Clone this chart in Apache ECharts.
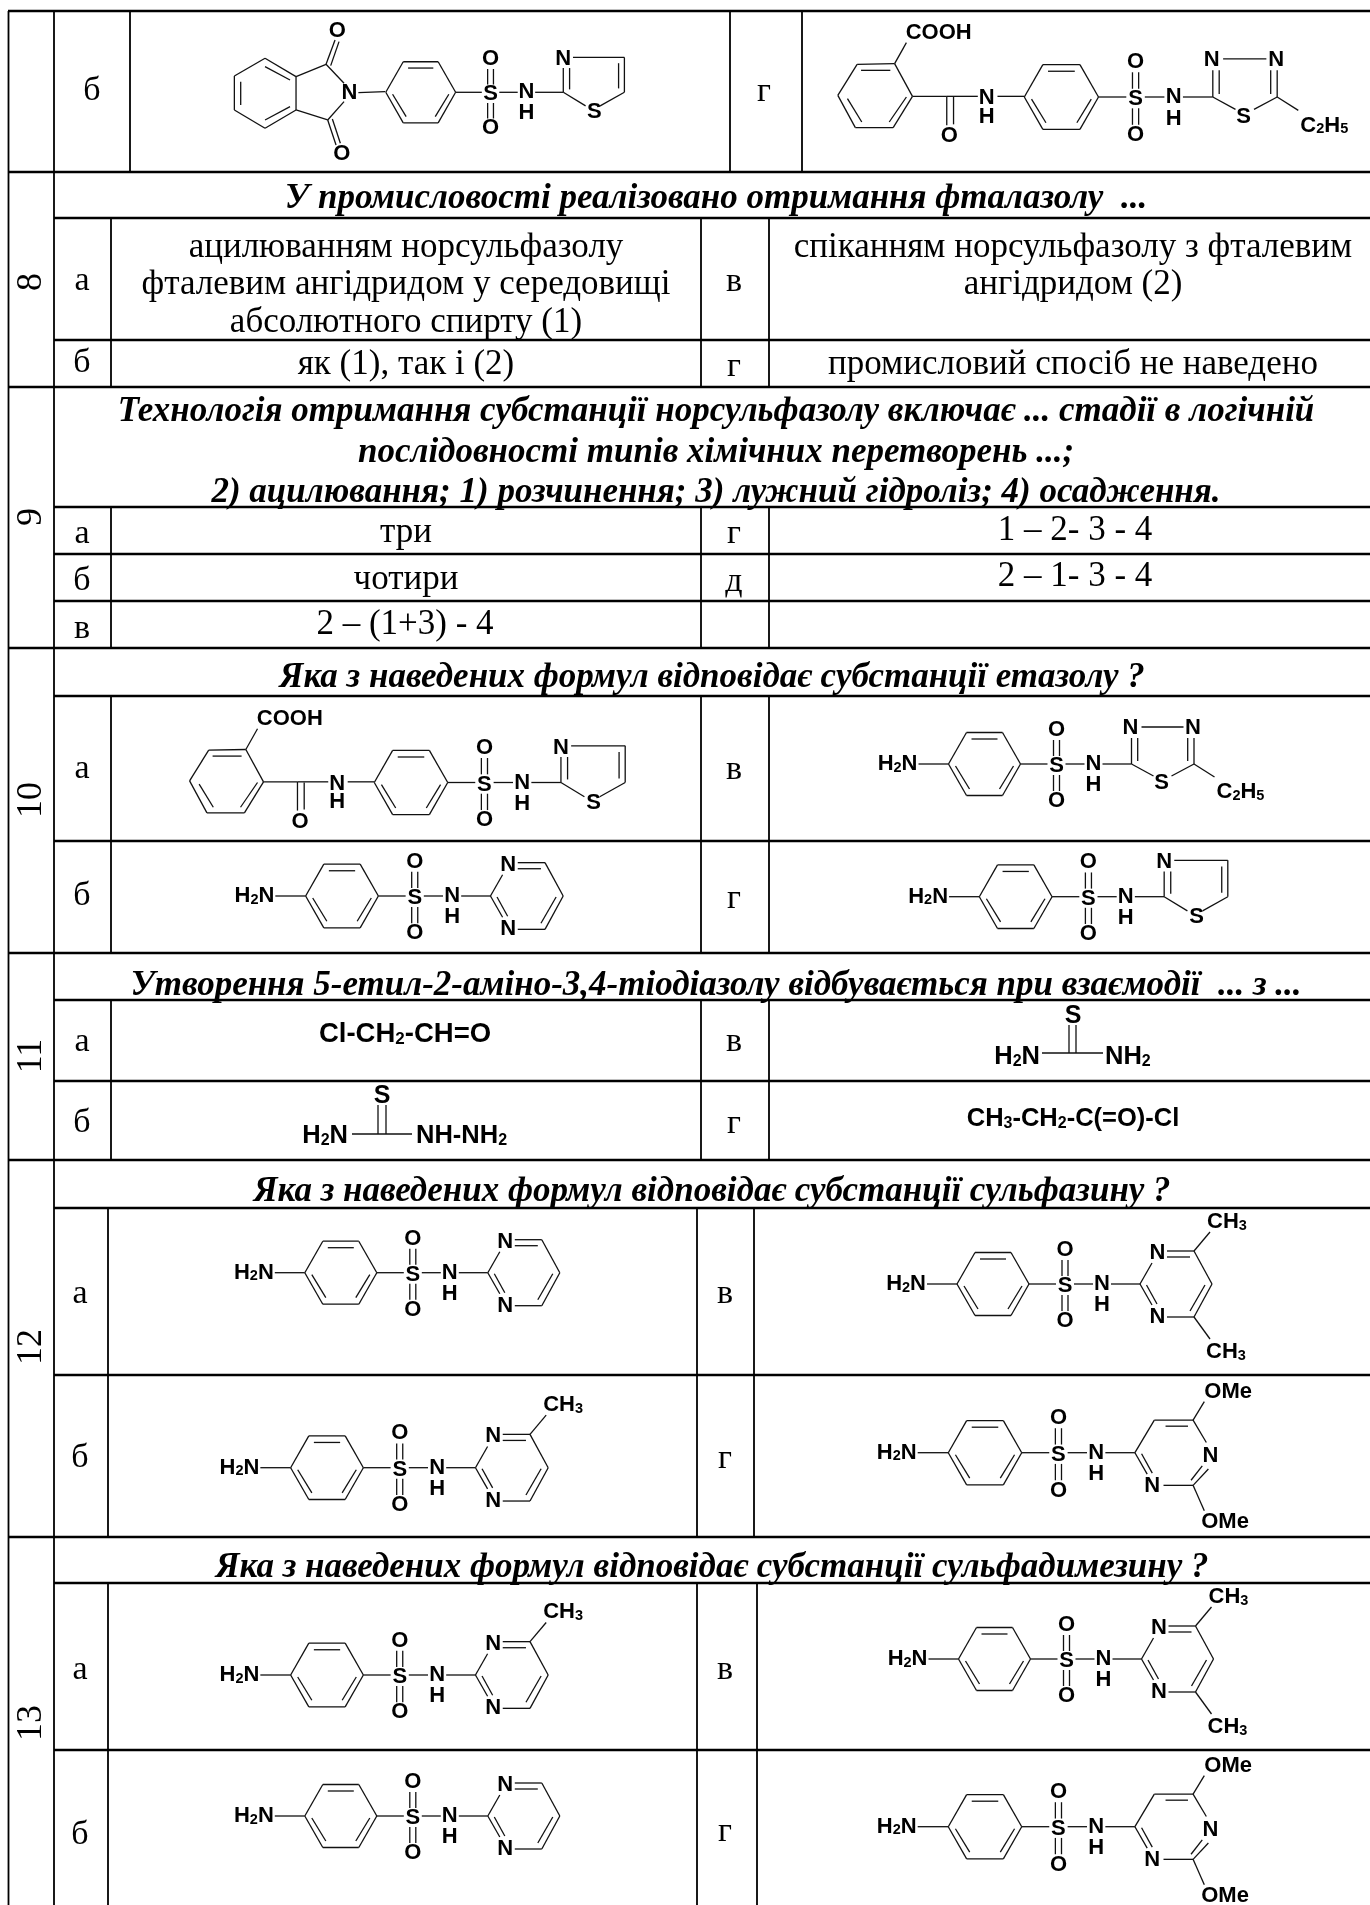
<!DOCTYPE html>
<html><head><meta charset="utf-8">
<style>html,body{margin:0;padding:0;background:#fff}#c{width:1370px;height:1905px}</style>
<script src="https://cdn.jsdelivr.net/npm/echarts@6/dist/echarts.min.js"></script>
</head><body><div id="c"></div>
<script>
// table rules: x1,y1,x2,y2,width
const hRules = [[8,11],[8,172],[54,218],[54,340],[8,387],[54,507],[54,554],[54,601],[8,648],[54,696],[54,841],[8,953],[54,1000],[54,1081],[8,1160],[54,1208],[54,1375],[8,1537],[54,1583],[54,1750]];
const vRules = [[8.5,11,1905],[54,11,1905],
 [130,11,172],[730,11,172],[802,11,172],
 [111,218,387],[701,218,387],[769,218,387],
 [111,507,648],[701,507,648],[769,507,648],
 [111,696,953],[701,696,953],[769,696,953],
 [111,1000,1160],[701,1000,1160],[769,1000,1160],
 [108,1208,1537],[697,1208,1537],[754,1208,1537],
 [108,1583,1905],[697,1583,1905],[757,1583,1905]];
const rowNumbers = [[32,282,'8'],[32,517,'9'],[32,800,'10'],[32,1056,'11'],[32,1347,'12'],[32,1723,'13']];
const headers = [
 [716,199,'У промисловості реалізовано отримання фталазолу  ...'],
 [716,412,'Технологія отримання субстанції норсульфазолу включає ... стадії в логічній'],
 [716,453,'послідовності типів хімічних перетворень ...;'],
 [716,493,'2) ацилювання; 1) розчинення; 3) лужний гідроліз; 4) осадження.'],
 [712,678,'Яка з наведених формул відповідає субстанції етазолу ?'],
 [716,986,'Утворення 5-етил-2-аміно-3,4-тіодіазолу відбувається при взаємодії  ... з ...'],
 [712,1192,'Яка з наведених формул відповідає субстанції сульфазину ?'],
 [712,1568,'Яка з наведених формул відповідає субстанції сульфадимезину ?']];
const cellLetters = [
 [92,91,'б'],[764,92,'г'],
 [82,281,'а'],[734,282,'в'],[82,363,'б'],[734,367,'г'],
 [82,534,'а'],[734,534,'г'],[82,581,'б'],[734,582,'д'],[82,629,'в'],
 [82,769,'а'],[734,770,'в'],[82,896,'б'],[734,899,'г'],
 [82,1042,'а'],[734,1042,'в'],[82,1123,'б'],[734,1124,'г'],
 [80,1294,'а'],[725,1294,'в'],[80,1458,'б'],[725,1459,'г'],
 [80,1670,'а'],[725,1670,'в'],[80,1835,'б'],[725,1832,'г']];
const cellTexts = [
 [406,248,'ацилюванням норсульфазолу'],[406,285,'фталевим ангідридом у середовищі'],[406,323,'абсолютного спирту (1)'],
 [1073,248,'спіканням норсульфазолу з фталевим'],[1073,285,'ангідридом (2)'],
 [406,365,'як (1), так і (2)'],[1073,365,'промисловий спосіб не наведено'],
 [406,533,'три'],[1075,531,'1 – 2- 3 - 4'],[406,580,'чотири'],[1075,577,'2 – 1- 3 - 4'],[405,625,'2 – (1+3) - 4']];
// formula texts: x,y,text,align
const formulaTexts = [
 [405,1033,'{h|Cl-CH}{i|2}{h|-CH=O}','center'],
 [1073,1119,'{f|CH}{g|3}{f|-CH}{g|2}{f|-C(=O)-Cl}','center'],
 [348,1136,'{f|H}{g|2}{f|N}','right'],[416,1136,'{f|NH-NH}{g|2}','left'],
 [1040,1057,'{f|H}{g|2}{f|N}','right'],[1105,1057,'{f|NH}{g|2}','left'],
 [382,1096,'S','center'],[1073,1016,'S','center']];
const thioureaBonds = [[378,1105,378,1134],[386,1105,386,1134],[352,1134,412,1134],
 [1069,1025,1069,1053],[1076,1025,1076,1053],[1042,1053,1103,1053]];

// molecule fragments, local coordinates with the benzene ring at the origin
const H2N='{m|H}{s|2}{m|N}', CH3='{m|CH}{s|3}', C2H5='{m|C}{s|2}{m|H}{s|5}';
const benzene = {lines:[[-36,0,-18,-31.5],[-18,-31.5,18,-31.5],[18,-31.5,36,0],[36,0,18,31.5],[18,31.5,-18,31.5],[-18,31.5,-36,0],[-13,-25,13,-25],[-29,2,-15,25],[29,2,15,25]],labels:[]};
const amine = {lines:[[-36,0,-66,0]],labels:[[-67,0,H2N,'right']]};
const sulfonamide = {lines:[[36,0,63,0],[81,0,100,0],[118,0,147,0],[69,-24,69,-8],[75,-24,75,-8],[69,11,69,27],[75,11,75,27]],
 labels:[[72,2,'S'],[72,-34,'O'],[72,37,'O'],[109,0,'N'],[109,21,'H']]};
const thiazole = {o:[-147,0],lines:[[0,0,0,-25],[6.5,-3,6.5,-25],[10,-36,63,-36],[63,-36,63,0],[57,-30,57,-4],[63,0,38,14],[23,14,0,0]],labels:[[0,-34,'N'],[32,20,'S']]};
const thiadiazole = {o:[-147,0],lines:[[0,0,0,-26],[6.2,-3,6.2,-26],[62.5,0,62.5,-26],[56.2,-3,56.2,-26],[10,-37,52,-37],[0,0,22,12],[40,12,62.5,0],[62.5,0,83,13]],
 labels:[[-1,-36,'N'],[61.5,-36,'N'],[30,19,'S'],[85,28,C2H5,'left']]};
const pyrimidine = {o:[-147,0],lines:[[0,0,12,-21],[0,0,12,21],[6.5,1,17,20],[27,-33,54,-33],[27,-27,50,-27],[54,-33,72,0],[72,0,54,33],[65,1,50,27],[54,33,27,33]],labels:[[17.5,-31,'N'],[17.5,33,'N']]};
const methylTop = {o:[-147,0],lines:[[54,-33,70,-52]],labels:[[67,-62,CH3,'left']]};
const methylBottom = {o:[-147,0],lines:[[54,33,70,55]],labels:[[66,68,CH3,'left']]};
const dimethoxyPyrimidine = {o:[-147,0],lines:[[0,0,19,-32],[19,-32,57,-32],[30,-26,52,-26],[57,-32,70,-10],[72,16,57,32],[66,13,55,27],[57,32,28,32],[12,21,0,0],[17,20,6.5,1],[57,-32,68,-50],[57,32,68,57]],
 labels:[[74,3,'N'],[17,33,'N'],[68,-60,'OMe','left'],[65,68,'OMe','left']]};
const phthalimide = {o:[662,277],ux:1/2.91,uy:1/2.91,lines:[[475,278,555,275],[432,250,378,193],[432,305,383,360],[378,193,405,120],[392,197,417,125],[383,360,408,435],[397,357,421,430],
 [288,230,378,193],[288,330,383,360],[288,230,288,330],[288,230,195,175],[195,175,103,228],[103,228,103,330],[103,330,195,385],[195,385,288,330],[195,200,270,240],[122,245,122,315],[195,360,270,320]],
 labels:[[448,280,'N'],[412,92,'O'],[425,463,'O']]};
const benzoyl = {o:[704,290],ux:1/2.884,uy:1/3.09,lines:[[78,285,132,192],[132,192,237,190],[237,190,287,288],[287,288,233,382],[233,382,127,382],[127,382,78,285],[143,210,225,210],[105,295,145,365],[270,290,222,365],
 [237,190,270,127],[287,288,383,288],[383,288,383,375],[402,290,402,372],[383,288,470,288],[525,288,600,288]],
 labels:[[268,97,'COOH','left'],[390,408,'O'],[495,293,'N'],[495,350,'H']]};
const thiazoleDrug=[benzene,amine,sulfonamide,thiazole];
const molecules = [
 [420.7,92.3,.97,[phthalimide,benzene,sulfonamide,thiazole]],
 [1061.4,97,1.03,[benzoyl,benzene,sulfonamide,thiadiazole]],
 [411,782.5,1.02,[benzoyl,benzene,sulfonamide,thiazole]],
 [984.5,764,1,[benzene,amine,sulfonamide,thiadiazole]],
 [342,896,1.01,[benzene,amine,sulfonamide,pyrimidine]],
 [1015.7,896.7,1.01,thiazoleDrug],
 [340.8,1272.7,1,[benzene,amine,sulfonamide,pyrimidine]],
 [993,1284,1,[benzene,amine,sulfonamide,pyrimidine,methylTop,methylBottom]],
 [327,1467.7,1.01,[benzene,amine,sulfonamide,pyrimidine,methylTop]],
 [985,1452.7,1.02,[benzene,amine,sulfonamide,dimethoxyPyrimidine]],
 [327,1675,1.01,[benzene,amine,sulfonamide,pyrimidine,methylTop]],
 [994.5,1659,1,[benzene,amine,sulfonamide,pyrimidine,methylTop,methylBottom]],
 [340.8,1816,1,[benzene,amine,sulfonamide,pyrimidine]],
 [985,1826.7,1.02,[benzene,amine,sulfonamide,dimethoxyPyrimidine]]];

const bondRows = thioureaBonds.slice(), labelRows = [];
molecules.forEach(([cx,cy,k,parts])=>parts.forEach(p=>{
  const o=p.o||[0,0], ux=p.ux||1, uy=p.uy||1;
  const X=v=>cx+k*ux*(v-o[0]), Y=v=>cy+k*uy*(v-o[1]);
  p.lines.forEach(l=>bondRows.push([X(l[0]),Y(l[1]),X(l[2]),Y(l[3])]));
  p.labels.forEach(l=>labelRows.push([X(l[0]),Y(l[1]),l[2],l[3]||'center']));
}));
formulaTexts.forEach(f=>labelRows.push(f));
const ruleRows = hRules.map(r=>[r[0],r[1],1370,r[1],2.6]).concat(vRules.map(r=>[r[0],r[1],r[0],r[2],1.8]));

const SERIF='"Liberation Serif","Times New Roman",serif', SANS='"Liberation Sans",Arial,sans-serif';
const tok=(fontSize,sub)=>({fontFamily:SANS,fontWeight:'bold',fontSize,lineHeight:fontSize,verticalAlign:sub?'bottom':'top',padding:sub?[sub,0,0,0]:0,fill:'#000'});
const rich={m:tok(22),s:tok(14.5,14),f:tok(25.5),g:tok(16,15),h:tok(27.5),i:tok(17,17)};
function lineSeries(rows,color,fixedW){
  return {type:'custom',coordinateSystem:'cartesian2d',silent:true,clip:false,data:rows,encode:{x:0,y:1},
   renderItem(p,api){
     const r=rows[p.dataIndex],a=api.coord([r[0],r[1]]),b=api.coord([r[2],r[3]]);
     return {type:'line',shape:{x1:a[0],y1:a[1],x2:b[0],y2:b[1]},style:{stroke:color,lineWidth:fixedW||r[4],lineCap:'butt'}};
   }};
}
function textSeries(rows,font,extra){
  return {type:'custom',coordinateSystem:'cartesian2d',silent:true,clip:false,data:rows.map(r=>[r[0],r[1]]),encode:{x:0,y:1},
   renderItem(p,api){
     const r=rows[p.dataIndex],a=api.coord([r[0],r[1]]);
     return Object.assign({type:'text',x:a[0],y:a[1],style:{text:r[2],font,fill:'#000',align:'center',verticalAlign:'middle'}},extra||{});
   }};
}
const labelSeries={type:'custom',coordinateSystem:'cartesian2d',silent:true,clip:false,data:labelRows.map(r=>[r[0],r[1]]),encode:{x:0,y:1},
  renderItem(p,api){
    const r=labelRows[p.dataIndex],a=api.coord([r[0],r[1]]),isRich=r[2].indexOf('{')===0,big=r[2].indexOf('{f')===0||r[2].indexOf('{h')===0;
    const sizePx=(big||(r[1]>1000&&r[1]<1020)||(r[1]>1090&&r[1]<1100&&r[0]<400))?25:22;
    return {type:'text',x:a[0],y:a[1]-(isRich?(big?13:11):0),style:{text:r[2],font:'bold '+sizePx+'px '+SANS,fill:'#000',align:r[3],verticalAlign:isRich?'top':'middle',rich:isRich?rich:undefined}};
  }};
const chart=echarts.init(document.getElementById('c'),null,{renderer:'canvas'});
chart.setOption({animation:false,backgroundColor:'#fff',
 grid:{left:0,right:0,top:0,bottom:0},
 xAxis:{type:'value',min:0,max:1370,show:false},
 yAxis:{type:'value',min:0,max:1905,inverse:true,show:false},
 series:[
  lineSeries(ruleRows,'#000'),
  lineSeries(bondRows,'#111',1.3),
  labelSeries,
  textSeries(rowNumbers,'36px '+SERIF,{rotation:Math.PI/2}),
  textSeries(headers,'italic bold 35px '+SERIF),
  textSeries(cellLetters,'34px '+SERIF),
  textSeries(cellTexts,'35px '+SERIF)
 ]});
</script></body></html>
